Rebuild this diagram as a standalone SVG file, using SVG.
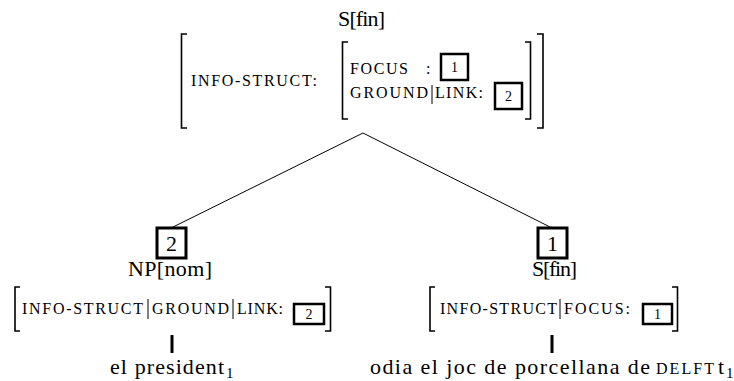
<svg xmlns="http://www.w3.org/2000/svg" width="734" height="381" viewBox="0 0 734 381">
<style>
text{font-family:'Liberation Serif','DejaVu Serif','Noto Serif',serif;fill:#000}
.m{font-size:22px}
.sc{font-size:16px}
.n{font-size:14px}
.sub{font-size:15px}
.br{fill:none;stroke:#000;stroke-width:1.6}
.sep{stroke:#000;stroke-width:1}
.box{fill:none;stroke:#000;stroke-width:2.5}
.bbox{fill:none;stroke:#000;stroke-width:3}
.edge{stroke:#000;stroke-width:1;fill:none}
.stem{stroke:#000;stroke-width:3}
</style>
<rect width="734" height="381" fill="#fff"/>
<g id="connectors">
<path class="edge" d="M363,133 L171,228"/>
<path class="edge" d="M363,133 L552,228"/>
</g>
<g id="node-root">
<text class="m" x="338" y="26" textLength="47" lengthAdjust="spacing">S[fin]</text>
<path class="br" d="M187,34 H181.5 V128 H187"/>
<path class="br" d="M537,34 H543 V128 H537"/>
<path class="br" d="M348,42 H342.5 V119 H348"/>
<path class="br" d="M525,42 H530.5 V119 H525"/>
<text class="sc" x="191" y="86" textLength="126" lengthAdjust="spacing">INFO-STRUCT:</text>
<text class="sc" x="350" y="74" textLength="58" lengthAdjust="spacing">FOCUS</text>
<text class="sc" x="426" y="74">:</text>
<rect class="box" x="441" y="54" width="27" height="26"/>
<text class="n" x="454.5" y="72" text-anchor="middle">1</text>
<text class="sc" x="350" y="98" textLength="78" lengthAdjust="spacing">GROUND</text>
<line class="sep" x1="432" y1="85" x2="432" y2="104"/>
<text class="sc" x="435" y="98" textLength="48" lengthAdjust="spacing">LINK:</text>
<rect class="box" x="495" y="83" width="27" height="26"/>
<text class="n" x="508.5" y="101" text-anchor="middle">2</text>
</g>
<g id="node-np">
<rect class="bbox" x="157" y="228" width="29" height="30"/>
<text class="m" x="171.5" y="251" text-anchor="middle">2</text>
<text class="m" x="128" y="276" textLength="84" lengthAdjust="spacing">NP[nom]</text>
<path class="br" d="M20,287 H15 V331 H20"/>
<text class="sc" x="22" y="314" textLength="121" lengthAdjust="spacing">INFO-STRUCT</text>
<line class="sep" x1="148" y1="299" x2="148" y2="319"/>
<text class="sc" x="152" y="314" textLength="77" lengthAdjust="spacing">GROUND</text>
<line class="sep" x1="233" y1="299" x2="233" y2="319"/>
<text class="sc" x="237" y="314" textLength="46" lengthAdjust="spacing">LINK:</text>
<rect class="box" x="294" y="304" width="30" height="20"/>
<text class="n" x="309" y="319" text-anchor="middle">2</text>
<path class="br" d="M325,287 H330.5 V331 H325"/>
<line class="stem" x1="172" y1="335" x2="172" y2="353"/>
<text class="m" x="110" y="374" textLength="114" lengthAdjust="spacing">el president</text>
<text class="sub" x="226" y="378">1</text>
</g>
<g id="node-s">
<rect class="bbox" x="538" y="228" width="29" height="30"/>
<text class="m" x="552.5" y="251" text-anchor="middle">1</text>
<text class="m" x="532" y="276" textLength="45" lengthAdjust="spacing">S[fin]</text>
<path class="br" d="M435,287 H430 V331 H435"/>
<text class="sc" x="440" y="314" textLength="117" lengthAdjust="spacing">INFO-STRUCT</text>
<line class="sep" x1="560" y1="299" x2="560" y2="319"/>
<text class="sc" x="564" y="314" textLength="66" lengthAdjust="spacing">FOCUS:</text>
<rect class="box" x="643" y="304" width="29" height="20"/>
<text class="n" x="657.5" y="319" text-anchor="middle">1</text>
<path class="br" d="M672,287 H677.5 V331 H672"/>
<line class="stem" x1="552" y1="335" x2="552" y2="353"/>
<text class="m" x="370" y="374" textLength="280" lengthAdjust="spacing">odia el joc de porcellana de</text>
<text class="sc" x="656" y="374" textLength="58" lengthAdjust="spacing">DELFT</text>
<text class="m" x="718" y="374">t</text>
<text class="sub" x="726" y="378">1</text>
</g>
</svg>
